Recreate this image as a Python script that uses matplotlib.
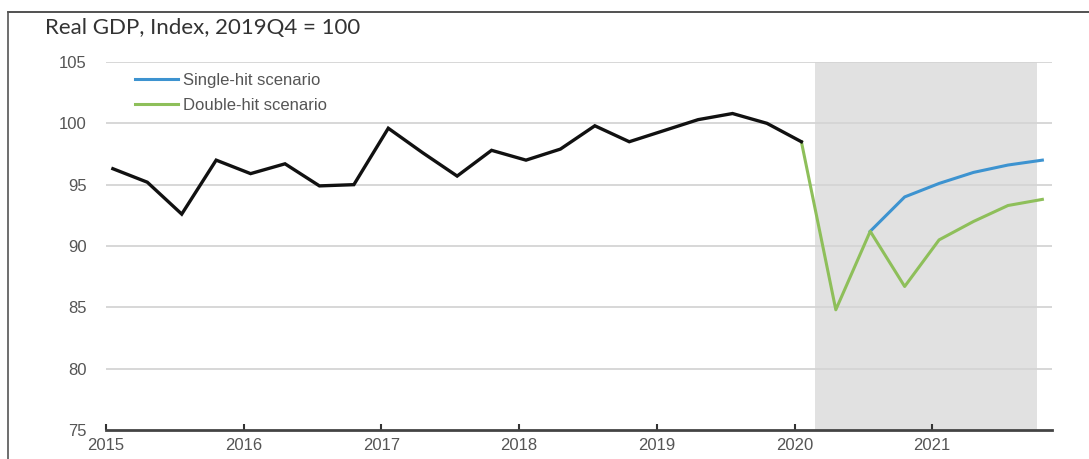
import numpy as np
import matplotlib.pyplot as plt
from matplotlib.lines import Line2D

# Quarterly real GDP index, 2015Q1 .. 2020Q1 (2019Q4 = 100)
history = [96.3, 95.2, 92.6, 97.0, 95.9, 96.7, 94.9, 95.0,
           99.6, 97.6, 95.7, 97.8, 97.0, 97.9, 99.8, 98.5,
           99.4, 100.3, 100.8, 100.0, 98.5]
# Projections 2020Q1 .. 2021Q4
single_hit = [98.5, 84.8, 91.2, 94.0, 95.1, 96.0, 96.6, 97.0]
double_hit = [98.5, 84.8, 91.2, 86.7, 90.5, 92.0, 93.3, 93.8]
years = [2015, 2016, 2017, 2018, 2019, 2020, 2021]

start_year = 2015
offset = 0.05
x_hist = start_year + np.arange(len(history)) / 4 + offset
x_proj = start_year + (np.arange(len(single_hit)) + len(history) - 1) / 4 + offset

narrow = ['Liberation Sans Narrow', 'Liberation Sans', 'DejaVu Sans']

fig = plt.figure(figsize=(10.89, 4.59), dpi=100)
ax = fig.add_axes([106 / 1089, 29 / 459, (1052 - 106) / 1089, (430 - 62) / 459])

# projection period shading
ax.axvspan(2020.15, 2021.76, color='#e1e1e1', zorder=0, lw=0)

for y in range(80, 106, 5):
    ax.axhline(y, color='#d4d4d4', lw=1.3, zorder=1)

ax.plot(x_proj[2:], single_hit[2:], color='#3d93d0', lw=2.2, zorder=3)
ax.plot(x_proj, double_hit, color='#8ebf5a', lw=2.2, zorder=3)
ax.plot(x_hist, history, color='#111111', lw=2.4, zorder=4, solid_joinstyle='miter')

ax.set_xlim(2015, 2021.87)
ax.set_ylim(75, 105)
ax.set_xticks(years)
ax.set_xticklabels([str(y) for y in years])
ax.set_yticks(range(75, 106, 5))

for s in ['top', 'right', 'left']:
    ax.spines[s].set_visible(False)
ax.spines['bottom'].set_color('#444444')
ax.spines['bottom'].set_linewidth(2)
ax.tick_params(axis='x', direction='in', length=4, width=1.5, color='#333333',
               labelsize=12, labelcolor='#555555', pad=6)
ax.tick_params(axis='y', length=0, labelsize=12, labelcolor='#555555', pad=14)
for lab in ax.get_xticklabels() + ax.get_yticklabels():
    lab.set_family(narrow)

handles = [Line2D([], [], color='#3d93d0', lw=2.2),
           Line2D([], [], color='#8ebf5a', lw=2.2)]
leg = ax.legend(handles, ['Single-hit scenario', 'Double-hit scenario'],
                loc='upper left', bbox_to_anchor=(0.0146, 1.01), frameon=False,
                handlelength=2.6, handletextpad=0.3, labelspacing=0.6,
                prop={'family': narrow, 'size': 12})
for t in leg.get_texts():
    t.set_color('#555555')

fig.text(45 / 1089, 1 - 28 / 459, 'Real GDP, Index, 2019Q4 = 100', fontsize=16,
         family='Lato', color='#333333', va='center', ha='left')

# outer frame lines (top and left)
fig.add_artist(Line2D([8 / 1089, 1], [1 - 12 / 459, 1 - 12 / 459], color='#333333', lw=1.2))
fig.add_artist(Line2D([8 / 1089, 8 / 1089], [0, 1 - 12 / 459], color='#555555', lw=1.2))

fig.savefig('out.png', dpi=100)
